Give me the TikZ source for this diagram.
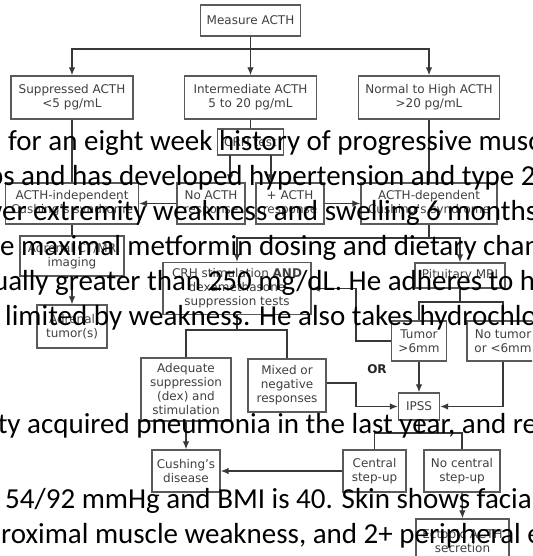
\documentclass[tikz,border=0pt]{standalone}
\usepackage{fontspec}
\newfontfamily\dvs{DejaVu Sans}
\newfontfamily\carl{Carlito}
\usetikzlibrary{arrows.meta}
\definecolor{boxc}{HTML}{5A5A5A}
\definecolor{txtc}{HTML}{404040}
\definecolor{linec}{HTML}{383838}
\tikzset{
  fbox/.style={draw=boxc, line width=1.4pt, fill=white, inner sep=0pt, align=center,
    text=txtc, font=\dvs\fontsize{12}{14}\selectfont},
  conn/.style={draw=linec, line width=1.3pt},
  arr/.style={conn, -{Latex[length=8pt,width=6.5pt]}},
  ovl/.style={font=\carl\fontsize{29}{35}\selectfont, text=black, inner sep=0pt, anchor=base west},
  orlab/.style={font=\dvs\bfseries\fontsize{12}{14}\selectfont, text=black!85, inner sep=0pt},
}
\begin{document}
\begin{tikzpicture}[x=1pt,y=-1pt]
\useasboundingbox (0,0) rectangle (532,556);
\fill[white] (0,0) rectangle (532,556);
\clip (0,0) rectangle (532,556);

% boxes
\node[fbox, minimum width=100pt, minimum height=31pt] (m) at (250.5,20.5) {Measure ACTH};
\node[fbox, minimum width=122pt, minimum height=43pt] (sup) at (72,97.5) {Suppressed ACTH\\<5 pg/mL};
\node[fbox, minimum width=132pt, minimum height=43pt] (int) at (250.5,97.5) {Intermediate ACTH\\5 to 20 pg/mL};
\node[fbox, minimum width=141pt, minimum height=43pt] (nor) at (429,97.5) {Normal to High ACTH\\>20 pg/mL};
\node[fbox, minimum width=66pt, minimum height=26pt] (crh) at (250.5,142) {CRH test};
\node[fbox, minimum width=133pt, minimum height=41pt] (ind) at (72,203.5) {ACTH-independent\\Cushing’s syndrome};
\node[fbox, minimum width=68pt, minimum height=41pt] (noa) at (211,203.5) {No ACTH\\response};
\node[fbox, minimum width=68pt, minimum height=41pt] (pla) at (290,203.5) {+ ACTH\\response};
\node[fbox, minimum width=136pt, minimum height=41pt] (dep) at (429,203.5) {ACTH-dependent\\Cushing’s syndrome};
\node[fbox, minimum width=104pt, minimum height=40pt] (img) at (72,256) {Adrenal CT/MR\\imaging};
\node[fbox, minimum width=70pt, minimum height=43pt] (tum) at (72,326.5) {Adrenal\\tumor(s)};
\node[fbox, minimum width=148pt, minimum height=52pt] (stim) at (237,288.5) {CRH stimulation \textbf{AND}\\dexamethasone\\suppression tests};
\node[fbox, minimum width=90pt, minimum height=25pt] (mri) at (460,275.5) {Pituitary MRI};
\node[fbox, minimum width=55pt, minimum height=40pt] (t6) at (419,341) {Tumor\\>6mm};
\node[fbox, minimum width=72pt, minimum height=40pt] (nt) at (503,341) {No tumor\\or <6mm};
\node[fbox, minimum width=90pt, minimum height=63pt] (adq) at (186,389.5) {Adequate\\suppression\\(dex) and\\stimulation};
\node[fbox, minimum width=78pt, minimum height=53pt] (mix) at (287,385.5) {Mixed or\\negative\\responses};
\node[fbox, minimum width=41pt, minimum height=27pt] (ipss) at (419,406.5) {IPSS};
\node[fbox, minimum width=68pt, minimum height=42pt] (cd) at (186,471) {Cushing’s\\disease};
\node[fbox, minimum width=63pt, minimum height=42pt] (csu) at (374.5,471) {Central\\step-up};
\node[fbox, minimum width=76pt, minimum height=42pt] (ncs) at (462,471) {No central\\step-up};
\node[fbox, minimum width=93pt, minimum height=44pt] (ect) at (462.5,541) {Ectopic ACTH\\secretion};
\node[orlab] (or) at (377,369) {OR};

% connectors
\coordinate (j1) at (250.5,49);
\draw[conn] (m.south) -- (j1);
\draw[arr] (j1) -| (sup.north);
\draw[arr] (j1) -- (int.north);
\draw[arr] (j1) -| (nor.north);
\draw[conn] (sup.south) -- (ind.north);
\draw[conn] (int.south) -- (crh.north);
\draw[conn] (nor.south) -- (dep.north);
\coordinate (c1) at (230,155);
\coordinate (c2) at (271,155);
\draw[arr] (c1) -- (c1 |- noa.north);
\draw[arr] (c2) -- (c2 |- pla.north);
\draw[arr] (noa.west) -- (ind.east);
\draw[arr] (pla.east) -- (dep.west);
\draw[conn] (ind.south) -- (img.north);
\draw[arr] (img.south) -- (tum.north);
\coordinate (j2) at (429,238);
\draw[conn] (dep.south) -- (j2);
\draw[arr] (j2) -| (stim.north);
\draw[arr] (j2) -| (mri.north);
\coordinate (j3) at (460,302);
\draw[conn] (mri.south) -- (j3);
\draw[conn] (j3) -| (t6.north);
\draw[conn] (j3) -| (nt.north);
\coordinate (k1) at (356,288.5);
\draw[arr] (t6.west) -| (k1) -- (stim.east);
\coordinate (j4) at (237,330);
\draw[conn] (stim.south) -- (j4);
\draw[conn] (j4) -| (adq.north);
\draw[conn] (j4) -| (mix.north);
\draw[arr] (t6.south) -- (ipss.north);
\draw[arr] (nt.south) |- (ipss.east);
\coordinate (k2) at (356,383);
\draw[arr] (mix.east |- k2) -- (k2) |- (ipss.west);
\draw[arr] (adq.south) -- (cd.north);
\coordinate (j5) at (419,433);
\draw[conn] (ipss.south) -- (j5);
\draw[conn] (j5) -| (csu.north);
\draw[conn] (j5) -| (ncs.north);
\draw[arr] (csu.west) -- (cd.east);
\draw[arr] (ncs.south) -- (ect.north);

% overlaid text
\node[ovl] (l1) at (8,150) {for an eight week history of progressive muscle};
\node[ovl] (l2) at (21,185) {\llap{ps }and has developed hypertension and type 2 diabetes};
\node[ovl] (l3) at (33,220) {\llap{lower }extremity weakness and swelling 6 months};
\node[ovl] (l4) at (21,255) {\llap{the }maximal metformin dosing and dietary changes};
\node[ovl] (l5) at (55,290) {\llap{usually }greater than 250 mg/dL. He adheres to his};
\node[ovl] (l6) at (5,325) {limited by weakness. He also takes hydrochlorothiazide};
\node[ovl] (l7) at (27,433) {\llap{community }acquired pneumonia in the last year, and recently};
\node[ovl] (l8) at (5,508) {54/92 mmHg and BMI is 40. Skin shows facial};
\node[ovl] (l9) at (1,543) {\llap{p}roximal muscle weakness, and 2+ peripheral edema};
\end{tikzpicture}
\end{document}
